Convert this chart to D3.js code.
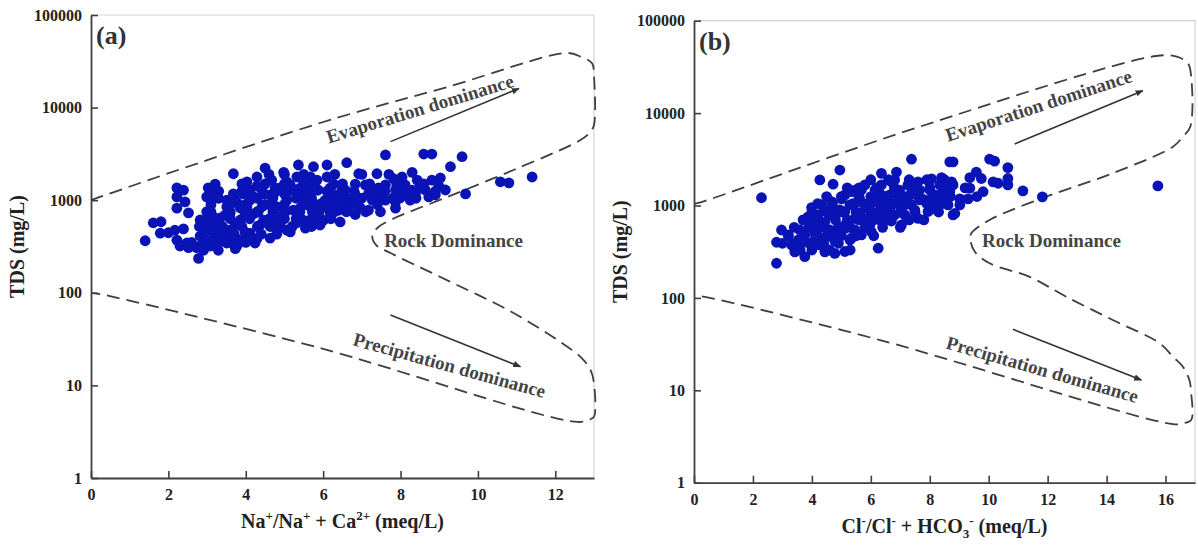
<!DOCTYPE html>
<html>
<head>
<meta charset="utf-8">
<script src="https://cdn.jsdelivr.net/npm/d3@7/dist/d3.min.js"></script>
<style>
  body { margin: 0; background: #fff; }
  svg { display: block; font-family: "Liberation Serif", "Times New Roman", serif; }
</style>
</head>
<body>
<svg width="1198" height="548"></svg>
<script>
// ---- data (x ratio in meq/L, TDS in mg/L) ----
const yTicks = [1, 10, 100, 1000, 10000, 100000];
const xTicksA = [0, 2, 4, 6, 8, 10, 12];
const xTicksB = [0, 2, 4, 6, 8, 10, 12, 14, 16];

const samplesA = [
  [1.40,365],[1.61,570],[1.81,585],[1.79,440],[2.00,445],[2.22,1085],[2.22,1360],[2.39,1283],[2.43,960],[2.22,820],
  [2.52,730],[2.39,490],[2.17,474],[2.22,370],[2.48,345],[2.30,320],[2.52,307],[2.78,235],[2.82,320],[2.82,410],
  [2.95,520],[2.99,750],[2.99,1085],[3.03,1360],[3.21,1490],[3.21,1200],[3.08,1110],[3.16,660],[3.29,608],[3.12,370],
  [3.29,288],[3.08,320],[3.51,345],[3.77,320],[3.68,1930],[4.03,1580],[4.29,1780],[4.50,2220],[4.29,1420],[4.67,1645],
  [4.98,2000],[5.06,1580],[5.36,2400],[5.75,2300],[6.10,2400],[5.32,1780],[5.67,1780],[6.10,1780],[3.68,1170],[3.51,1000],
  [3.77,950],[3.59,710],[3.85,570],[3.42,474],[3.59,410],[4.11,440],[3.98,370],[4.29,385],[4.20,710],[4.42,850],
  [4.46,1170],[4.72,1170],[4.80,474],[4.63,520],[5.06,474],[4.89,660],[5.32,570],[5.49,608],[5.84,630],[6.18,730],
  [6.01,608],[5.06,1000],[5.49,1170],[5.84,1283],[6.18,1085],[4.80,850],[5.23,780],[5.67,850],[6.01,950],[4.03,850],
  [4.46,608],[3.94,1170],[4.20,1085],[5.49,1490],[5.84,1645],[6.27,1490],[4.89,1360],[3.51,850],[2.91,288],[2.73,307],
  [3.34,410],[3.85,370],
  [6.61,2540],[7.61,3080],[8.60,3150],[8.81,3150],[9.59,2950],[9.29,2300],[8.30,2000],[8.81,1645],[8.99,1420],[9.68,1170],
  [10.58,1580],[10.80,1540],[11.40,1780],[6.92,1930],[7.39,1930],[7.82,1710],[8.04,1780],[8.43,1645],[8.60,1340],[8.12,1170],
  [7.87,950],[7.52,1085],[7.17,1170],[6.92,1000],[6.66,850],[6.49,1283],[6.40,780],[7.17,780],[6.83,1490],[7.43,1360],
  [8.30,1283],[8.73,1085],
  [6.44,582],[6.83,700],[5.92,540],[5.54,500],[5.15,455],[4.63,390],[4.24,345],[3.73,300],[7.48,750],[7.87,820],
  [3.21,540],[3.47,692],[3.86,824],[4.11,1000],[4.42,1288],[4.76,1355],[5.02,1138],[5.28,1288],[5.54,1000],[5.80,888],
  [6.05,1000],[6.31,1138],[6.57,1288],[6.83,1138],[7.09,1460],[7.35,1288],[7.61,1460],[7.87,1288],[8.12,1460],[8.38,1138],
  [8.64,1288],[8.90,1138],[3.34,642],[3.73,540],[3.98,692],[4.32,746],[4.63,888],[5.02,746],[5.41,824],[5.72,746],
  [6.13,824],[6.44,888],[6.70,1000],[6.96,824],[7.27,1000],[7.61,1000],[7.99,1057],[8.25,1000],[8.51,1460],[9.03,1738],
  [9.16,1288],[6.18,1355],[5.87,1288],[5.41,1355],[5.15,1460],[4.63,1138],[4.11,1288],[3.60,477],[3.98,454],[4.37,540],
  [4.76,582],[3.86,611],[2.82,611],[2.95,454],[3.21,391],[3.47,370],[3.08,501],[3.34,454],[3.73,391],[4.11,391],
  [4.6,1900],[5.0,1900],[5.5,1900],[6.3,1900],[7.0,1900],[7.7,1900],
  [3.9,1500],[4.5,1500],[5.0,1500],[5.7,1500],[6.5,1500],[7.2,1500],[7.9,1500],[8.6,1500],
  [3.3,1250],[3.9,1250],[4.8,1250],[5.1,1250],[5.6,1250],[6.1,1250],[6.8,1250],[7.6,1250],[8.0,1250],[8.4,1250],[8.9,1250],
  [3.3,1050],[3.7,1050],[4.3,1050],[4.7,1050],[5.3,1050],[5.7,1050],[6.4,1050],[6.6,1050],[7.0,1050],[7.4,1050],[7.8,1050],[8.4,1050],
  [3.1,900],[3.6,900],[4.0,900],[4.5,900],[5.0,900],[5.5,900],[5.9,900],[6.2,900],[6.8,900],[7.4,900],
  [3.1,750],[3.6,750],[4.3,750],[4.7,750],[5.0,750],[5.4,750],[5.9,750],[6.3,750],[6.6,750],[7.1,750],
  [3.0,630],[3.6,630],[4.1,630],[4.6,630],[5.0,630],[5.3,630],[5.7,630],[6.2,630],
  [2.8,520],[3.4,520],[3.9,520],[4.3,520],[4.9,520],[5.2,520],[5.7,520],
  [2.9,430],[3.2,430],[3.7,430],[4.4,430],[4.8,430],
  [2.6,350],[2.9,350],[3.3,350],[3.6,350],[4.0,350]
];

const samplesB = [
  [2.29,1213],[2.80,237],[2.80,400],[2.97,543],[3.31,374],[3.42,315],[3.76,280],[4.27,1890],[4.72,1700],[4.95,2420],
  [5.12,318],[6.25,345],[7.38,3170],[6.87,2300],[6.36,2230],[8.68,2970],[3.99,950],[4.33,1015],[3.76,480],[4.10,374],
  [4.44,315],[4.78,303],[3.99,615],[4.44,660],[4.78,860],[5.01,1180],[5.35,1410],[5.68,1470],[5.12,565],[5.46,725],
  [5.80,935],[6.02,1180],[6.36,1670],[6.70,1800],[6.25,860],[6.59,1015],[6.93,1300],[7.26,1670],[7.60,1800],[8.06,1940],
  [8.40,2000],[8.74,1800],[7.04,615],[7.60,725],[7.94,860],[8.28,935],[8.62,1015],[8.79,791],[6.70,680],[6.02,520],
  [5.68,480],[5.35,445],[4.78,410],[4.44,445],[3.54,424],[3.20,480],[4.67,1100],[4.21,791],[5.57,1100],[5.12,860],
  [6.36,1300],[5.91,725],[7.38,1015],[7.15,791],[7.72,1180],[8.17,1300],[8.51,1410],[4.55,520],[4.10,500],[3.87,755],
  [10.03,3180],[10.20,3020],[10.65,2570],[10.65,1960],[10.65,1670],[10.32,1740],[11.16,1440],[11.82,1240],[15.74,1630],[9.58,2300],
  [9.75,1960],[9.36,2000],[9.81,1410],[9.36,1540],[8.79,2970],[8.79,1670],[9.02,1180],[9.30,1180],[8.85,820],[9.02,1015],
  [10.15,1800],[8.68,1410],
  [3.59,543],[3.93,697],[4.27,615],[4.61,791],[4.95,895],[5.29,1015],[5.63,1150],[5.97,1015],[6.31,1300],[6.64,1300],
  [6.98,1015],[7.32,1300],[7.66,1470],[8.00,1470],[8.34,1300],[8.51,1150],[3.59,374],[4.10,424],[4.61,543],[5.12,615],
  [5.46,543],[5.80,697],[6.14,791],[6.47,895],[6.81,791],[7.15,1015],[7.49,895],[7.83,1150],[8.17,1015],[4.27,374],
  [4.78,480],[5.29,424],[5.63,791],[5.97,615],[6.31,697],[6.64,895],[6.98,1470],[7.32,1670],[7.66,1150],[8.00,895],
  [8.34,1670],[4.44,895],[5.12,1300],[5.46,1470],[5.80,1670],[6.14,1470],[6.81,1890],
  [6.0,1900],[6.6,1900],[7.3,1900],[7.9,1900],[8.5,1900],
  [5.2,1550],[5.6,1550],[6.2,1550],[6.8,1550],[7.4,1550],[8.0,1550],[8.6,1550],[9.2,1550],
  [4.5,1250],[5.0,1250],[5.6,1250],[6.0,1250],[6.5,1250],[7.1,1250],[7.6,1250],[8.1,1250],[8.7,1250],[9.6,1250],
  [4.2,1050],[4.7,1050],[5.4,1050],[5.9,1050],[6.3,1050],[6.8,1050],[7.3,1050],[7.9,1050],[8.4,1050],
  [4.0,850],[4.5,850],[5.0,850],[5.5,850],[6.0,850],[6.5,850],[7.0,850],[7.5,850],[8.3,850],
  [3.7,700],[4.2,700],[4.8,700],[5.2,700],[5.6,700],[6.1,700],[6.6,700],[7.3,700],[7.8,700],
  [3.4,580],[3.9,580],[4.3,580],[4.9,580],[5.3,580],[5.8,580],[6.4,580],[7.0,580],
  [3.2,470],[3.7,470],[4.2,470],[4.6,470],[5.0,470],[5.5,470],[6.1,470],
  [3.0,390],[3.4,390],[3.9,390],[4.4,390],[4.9,390],
  [3.6,330],[4.0,330],[4.6,330],[5.3,330]
];

// Gibbs boundary envelopes (dashed)
const boundaryA = [
  [0,1000],[0.23,1084],[5.92,6820],[9.21,16700],[12.32,38900],[12.65,35500],[12.95,30100],[13.0,21600],[13.0,6490],
  [12.91,5500],[12.65,4470],[10.92,2120],[9.21,1084],[7.74,611],[7.40,501],[7.27,411],[7.37,328],[7.74,269],[9.03,148],
  [10.92,60.5],[12.32,26],[12.69,19.6],[12.91,14.7],[13.0,10.5],[13.0,4.6],[12.9,4.3],[12.57,4.03],[5.92,25.3],[0.23,97],[0,100]
];
const boundaryB = [
  [0,1040],[0.25,1090],[7.66,7130],[15.68,41500],[16.38,40800],[16.76,34600],[16.87,24800],[16.84,7130],[16.59,5560],
  [16.25,4330],[14.2,2230],[11.95,1245],[10.03,697],[9.41,500],[9.38,424],[9.53,316],[10.03,237],[11.39,169],[12.63,103],
  [14.21,57.7],[15.8,32.3],[16.25,23.1],[16.59,18],[16.81,12.9],[16.87,9.3],[16.87,4.77],[16.59,4.4],[16.25,4.3],
  [6.31,35],[0.2,105],[0,106]
];

// arrows [from, to]
const arrowsA = [[[7.74,4290],[11.06,16100]], [[7.74,57.5],[11.1,15.9]]];
const arrowsB = [[[10.88,4630],[15.23,17500]], [[10.82,45.7],[15.18,12.9]]];

// labels [text, x, tds, angle]
const labelsA = [["Evaporation dominance", 8.55, 8320, -17], ["Rock Dominance", 9.37, 313, 0], ["Precipitation dominance", 9.22, 14.1, 15.5]];
const labelsB = [["Evaporation dominance", 11.76, 10350, -18], ["Rock Dominance", 12.13, 358, 0], ["Precipitation dominance", 11.76, 14.4, 16]];

const titleA = [["Na",0],["+",-1],["/Na",0],["+",-1],[" + Ca",0],["2+",-1],[" (meq/L)",0]];
const titleB = [["Cl",0],["-",-1],["/Cl",0],["-",-1],[" + HCO",0],["3",1],["-",-1],[" (meq/L)",0]];

const svg = d3.select("svg");
const dotColor = "#0a14b6";
const inkColor = "#222";
const lineColor = "#3f3f3f";

svg.append("defs").append("marker")
  .attr("id", "arrowhead")
  .attr("viewBox", "0 0 10 10")
  .attr("refX", 9).attr("refY", 5)
  .attr("markerWidth", 8).attr("markerHeight", 8)
  .attr("markerUnits", "userSpaceOnUse")
  .attr("orient", "auto")
  .append("path")
  .attr("d", "M0,1 L10,5 L0,9 Z")
  .attr("fill", "#333");

function drawPanel(p) {
  const x = d3.scaleLinear().domain([0, p.xMax]).range([p.left, p.right]);
  const y = d3.scaleLog().domain([1, 100000]).range([p.bottom, p.top]);
  const g = svg.append("g");

  // light frame on top and right
  g.append("path")
    .attr("d", `M${p.left},${p.top} H${p.right} V${p.bottom}`)
    .attr("fill", "none").attr("stroke", "#d4d4d4").attr("stroke-width", 1.2);

  // boundary
  const line = d3.line()
    .x(d => x(d[0]))
    .y(d => y(d[1]))
    .curve(d3.curveCatmullRom.alpha(0.5));
  g.append("path")
    .datum(p.boundary)
    .attr("d", line)
    .attr("fill", "none")
    .attr("stroke", lineColor)
    .attr("stroke-width", 1.8)
    .attr("stroke-dasharray", "13,7");

  // arrows
  g.selectAll(".arrow")
    .data(p.arrows)
    .join("line")
    .attr("x1", d => x(d[0][0])).attr("y1", d => y(d[0][1]))
    .attr("x2", d => x(d[1][0])).attr("y2", d => y(d[1][1]))
    .attr("stroke", "#333").attr("stroke-width", 1.6)
    .attr("marker-end", "url(#arrowhead)");

  // labels
  g.selectAll(".zone")
    .data(p.labels)
    .join("text")
    .attr("transform", d => `translate(${x(d[1])},${y(d[2])}) rotate(${d[3]})`)
    .attr("text-anchor", "middle")
    .attr("font-size", 19)
    .attr("font-weight", "bold")
    .attr("fill", "#444")
    .text(d => d[0]);

  // samples
  g.selectAll(".dot")
    .data(p.samples)
    .join("circle")
    .attr("cx", d => x(d[0]))
    .attr("cy", d => y(d[1]))
    .attr("r", 5.4)
    .attr("fill", dotColor);

  // axes
  const xAxis = g.append("g")
    .attr("transform", `translate(0,${p.bottom})`)
    .call(d3.axisBottom(x).tickValues(p.xTicks).tickFormat(d3.format("d")).tickSizeInner(-7).tickSizeOuter(0));
  xAxis.selectAll("text").attr("y", 22).attr("dy", null);

  const yAxis = g.append("g")
    .attr("transform", `translate(${p.left},0)`)
    .call(d3.axisLeft(y).tickValues(yTicks).tickFormat(d3.format("d")).tickSizeInner(-7).tickSizeOuter(0));
  yAxis.selectAll("text").attr("x", -9);

  [xAxis, yAxis].forEach(a => {
    a.select(".domain").attr("stroke", lineColor).attr("stroke-width", 1.8);
    a.selectAll(".tick line").attr("stroke", lineColor).attr("stroke-width", 1.6);
    a.selectAll("text")
      .attr("font-family", "Liberation Serif, serif")
      .attr("font-size", 16)
      .attr("font-weight", "bold")
      .attr("fill", inkColor);
  });

  // panel tag
  g.append("text")
    .attr("x", p.left + 5).attr("y", p.top + 29)
    .attr("font-size", 26).attr("font-weight", "bold").attr("fill", "#333")
    .text(p.tag);

  // y title
  g.append("text")
    .attr("transform", `translate(${p.left - 67},${(p.top + p.bottom) / 2}) rotate(-90)`)
    .attr("text-anchor", "middle")
    .attr("font-size", 20).attr("font-weight", "bold").attr("fill", inkColor)
    .text("TDS (mg/L)");

  // x title with super/subscripts
  const xt = g.append("text")
    .attr("x", (p.left + p.right) / 2).attr("y", p.bottom + 50)
    .attr("text-anchor", "middle")
    .attr("font-size", 20).attr("font-weight", "bold").attr("fill", inkColor);
  let offset = 0;
  p.title.forEach(([t, s]) => {
    const target = s < 0 ? -8 : s > 0 ? 5 : 0;
    xt.append("tspan")
      .attr("dy", target - offset)
      .attr("font-size", s === 0 ? 20 : 13)
      .text(t);
    offset = target;
  });
}

drawPanel({
  left: 91, right: 594, top: 15, bottom: 478, xMax: 13, xTicks: xTicksA,
  boundary: boundaryA, arrows: arrowsA, labels: labelsA, samples: samplesA, tag: "(a)", title: titleA
});
drawPanel({
  left: 694, right: 1195, top: 20.7, bottom: 482.7, xMax: 17, xTicks: xTicksB,
  boundary: boundaryB, arrows: arrowsB, labels: labelsB, samples: samplesB, tag: "(b)", title: titleB
});
</script>
</body>
</html>
